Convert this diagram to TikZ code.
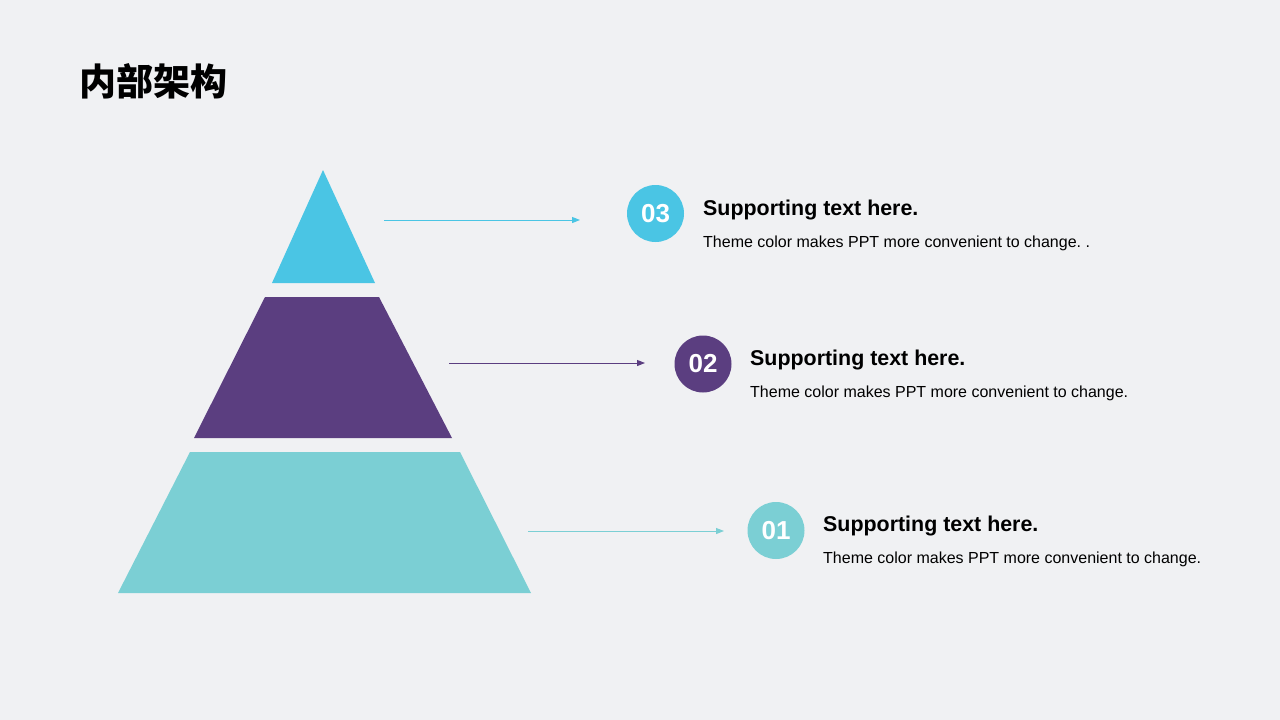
\documentclass[tikz,border=0pt]{standalone}
\usepackage{fontspec}
\setmainfont{Liberation Sans}
\newfontfamily\cjk{Noto Sans CJK SC}
\usetikzlibrary{arrows.meta}
\frenchspacing
\definecolor{bgc}{HTML}{F0F1F3}
\definecolor{cyanc}{HTML}{4AC5E4}
\definecolor{purc}{HTML}{5B3E80}
\definecolor{tealc}{HTML}{7BCFD4}
\tikzset{
  numcirc/.style={circle,fill=#1,minimum size=57pt,inner sep=0pt,text=white,font=\fontsize{26}{26}\selectfont\bfseries},
  headtxt/.style={anchor=base west,inner sep=0pt,font=\fontsize{21.4}{21.4}\selectfont\bfseries},
  subtxt/.style={anchor=base west,inner sep=0pt,font=\fontsize{16}{16}\selectfont},
  pointer/.style={draw=#1,line width=1pt,-{Triangle[length=8pt,width=6pt]}}
}
\begin{document}
\begin{tikzpicture}[x=1pt,y=-1pt]
\useasboundingbox[fill=bgc] (0,0) rectangle (1280,720);
\node[anchor=west,inner sep=0pt,font=\cjk\bfseries\fontsize{37}{37}\selectfont] (title) at (79,81) {内部架构};
% pyramid
\fill[cyanc] (323,170) -- (375,283) -- (272,283) -- cycle;
\fill[purc] (265,297) -- (379,297) -- (452,438) -- (194,438) -- cycle;
\fill[tealc] (190,452) -- (460,452) -- (531,593) -- (118,593) -- cycle;
% level 03
\coordinate (a3) at (384,220);
\coordinate (b3) at (580,220);
\draw[pointer=cyanc] (a3) -- (b3);
\node[numcirc=cyanc] (c3) at (655.5,213.5) {03};
\node[headtxt] (h3) at (703,215) {Supporting text here.};
\node[subtxt] (s3) at (703,247) {Theme color makes PPT more convenient to change. .};
% level 02
\coordinate (a2) at (449,363);
\coordinate (b2) at (645,363);
\draw[pointer=purc] (a2) -- (b2);
\node[numcirc=purc] (c2) at (703,364) {02};
\node[headtxt] (h2) at (750,365) {Supporting text here.};
\node[subtxt] (s2) at (750,397) {Theme color makes PPT more convenient to change.};
% level 01
\coordinate (a1) at (528,531);
\coordinate (b1) at (724,531);
\draw[pointer=tealc] (a1) -- (b1);
\node[numcirc=tealc] (c1) at (776,530.5) {01};
\node[headtxt] (h1) at (823,531) {Supporting text here.};
\node[subtxt] (s1) at (823,563) {Theme color makes PPT more convenient to change.};
\end{tikzpicture}
\end{document}
